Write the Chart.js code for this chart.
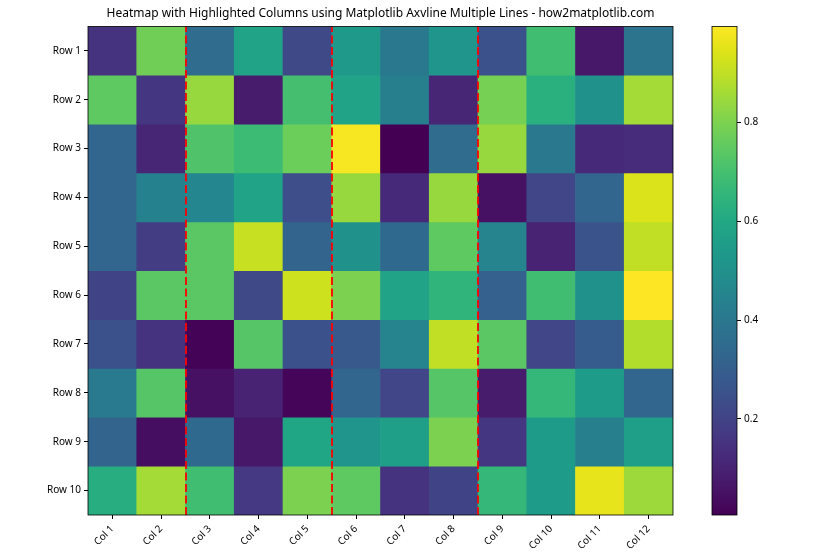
<!DOCTYPE html>
<html>
<head>
<meta charset="utf-8">
<script src="https://cdn.jsdelivr.net/npm/chart.js@4.4.1/dist/chart.umd.min.js"></script>
<style>
  body { margin: 0; background: #fff; }
  #wrap { position: relative; width: 840px; height: 560px; }
  canvas { position: absolute; top: 0; }
</style>
</head>
<body>
<div id="wrap">
  <canvas id="heat" width="840" height="560" style="left:0"></canvas>
  <canvas id="cbar" width="150" height="560" style="left:690px"></canvas>
</div>
<script>
// données
const colLabels = ['Col 1', 'Col 2', 'Col 3', 'Col 4', 'Col 5', 'Col 6', 'Col 7', 'Col 8', 'Col 9', 'Col 10', 'Col 11', 'Col 12'];
const rowLabels = ['Row 1', 'Row 2', 'Row 3', 'Row 4', 'Row 5', 'Row 6', 'Row 7', 'Row 8', 'Row 9', 'Row 10'];
const values = [
  [0.15, 0.78, 0.35, 0.58, 0.22, 0.54, 0.40, 0.52, 0.25, 0.69, 0.07, 0.38],
  [0.75, 0.16, 0.84, 0.08, 0.70, 0.58, 0.43, 0.11, 0.79, 0.63, 0.50, 0.86],
  [0.33, 0.11, 0.72, 0.68, 0.77, 0.985, 0.005, 0.35, 0.84, 0.40, 0.12, 0.13],
  [0.33, 0.44, 0.46, 0.58, 0.24, 0.84, 0.12, 0.84, 0.05, 0.21, 0.33, 0.94],
  [0.33, 0.18, 0.74, 0.91, 0.32, 0.50, 0.34, 0.75, 0.45, 0.10, 0.26, 0.90],
  [0.20, 0.74, 0.74, 0.22, 0.92, 0.80, 0.58, 0.65, 0.31, 0.69, 0.50, 0.995],
  [0.25, 0.15, 0.01, 0.73, 0.25, 0.28, 0.45, 0.90, 0.74, 0.21, 0.29, 0.88],
  [0.41, 0.73, 0.05, 0.10, 0.02, 0.33, 0.21, 0.73, 0.08, 0.66, 0.55, 0.33],
  [0.32, 0.04, 0.34, 0.07, 0.59, 0.52, 0.56, 0.80, 0.16, 0.55, 0.43, 0.56],
  [0.62, 0.86, 0.69, 0.17, 0.80, 0.75, 0.15, 0.20, 0.66, 0.55, 0.96, 0.85]
];
const highlightCols = [1.5, 4.5, 7.5]; // axvline entre les colonnes
const cbarTicks = [0.2, 0.4, 0.6, 0.8];

const TITLE = 'Heatmap with Highlighted Columns using Matplotlib Axvline Multiple Lines - how2matplotlib.com';
const FONT = 'Noto Sans';

// viridis, 21 échantillons
const VIRIDIS = ['#440154', '#471365', '#482475', '#463480', '#414487', '#3b528b', '#355f8d', '#2f6c8e', '#2a788e', '#25848e', '#21918c',
  '#1e9c89', '#22a884', '#2fb47c', '#44bf70', '#5ec962', '#7ad151', '#9bd93c', '#bddf26', '#dfe318', '#fde725'];
const hex = h => [1, 3, 5].map(i => parseInt(h.substr(i, 2), 16));
function viridis(t) {
  t = Math.max(0, Math.min(1, t)) * (VIRIDIS.length - 1);
  const i = Math.min(Math.floor(t), VIRIDIS.length - 2), f = t - i;
  const a = hex(VIRIDIS[i]), b = hex(VIRIDIS[i + 1]);
  return 'rgb(' + a.map((c, k) => Math.round(c + (b[k] - c) * f)).join(',') + ')';
}

const flat = values.flat();
const vmin = Math.min(...flat), vmax = Math.max(...flat);

// cadre noir autour de la zone du graphique
const frame = {
  id: 'frame',
  afterDatasetsDraw(chart) {
    const { ctx, chartArea: a } = chart;
    ctx.save();
    ctx.strokeStyle = '#000';
    ctx.lineWidth = 0.8;
    ctx.strokeRect(a.left, a.top, a.right - a.left, a.bottom - a.top);
    ctx.restore();
  }
};

const vlines = {
  id: 'vlines',
  afterDatasetsDraw(chart) {
    const { ctx, chartArea: a, scales } = chart;
    ctx.save();
    ctx.strokeStyle = '#ff0000';
    ctx.lineWidth = 1.8;
    ctx.setLineDash([8, 3.5]);
    highlightCols.forEach(c => {
      const x = Math.round(scales.x.getPixelForValue(c));
      ctx.beginPath();
      ctx.moveTo(x, a.bottom);
      ctx.lineTo(x, a.top);
      ctx.stroke();
    });
    ctx.restore();
  }
};

const tickFont = { family: FONT, size: 10 };

new Chart(document.getElementById('heat'), {
  type: 'bar',
  data: {
    labels: colLabels,
    datasets: values.map((row, r) => ({
      data: row.map(() => [r - 0.5, r + 0.5]),
      backgroundColor: row.map(v => viridis((v - vmin) / (vmax - vmin))),
      borderWidth: 0,
      barPercentage: 1,
      categoryPercentage: 1,
      grouped: false
    }))
  },
  options: {
    responsive: false,
    animation: false,
    layout: { padding: { left: 0, right: 167, top: 0, bottom: 0 } },
    plugins: {
      legend: { display: false },
      tooltip: { enabled: false },
      title: {
        display: true,
        text: TITLE,
        fullSize: false,
        color: '#000',
        font: { family: FONT, size: 12, weight: 'normal' },
        padding: { top: 6, bottom: 6 }
      }
    },
    scales: {
      x: {
        offset: true,
        grid: { offset: false, drawOnChartArea: false, tickLength: 4, color: '#000' },
        border: { display: false },
        ticks: { color: '#000', font: tickFont, maxRotation: 45, minRotation: 45, padding: 4 },
        afterFit: s => { s.height = 45; }
      },
      y: {
        type: 'linear',
        min: -0.5,
        max: 9.5,
        reverse: true,
        afterBuildTicks: s => { s.ticks = rowLabels.map((_, i) => ({ value: i })); },
        grid: { drawOnChartArea: false, tickLength: 4, color: '#000' },
        border: { display: false },
        ticks: { color: '#000', font: tickFont, padding: 3, callback: v => rowLabels[v] },
        afterFit: s => { s.width = 88; }
      }
    }
  },
  plugins: [vlines, frame]
});

// barre de couleur
function cbarGradient(chart) {
  const a = chart.chartArea;
  if (!a) return VIRIDIS[10];
  const g = chart.ctx.createLinearGradient(0, a.bottom, 0, a.top);
  VIRIDIS.forEach((c, i) => g.addColorStop(i / (VIRIDIS.length - 1), c));
  return g;
}

new Chart(document.getElementById('cbar'), {
  type: 'bar',
  data: {
    labels: [''],
    datasets: [{
      data: [[vmin, vmax]],
      backgroundColor: ctx => cbarGradient(ctx.chart),
      borderWidth: 0,
      barPercentage: 1,
      categoryPercentage: 1
    }]
  },
  options: {
    responsive: false,
    animation: false,
    layout: { padding: { left: 22, top: 26.4, bottom: 45 } },
    plugins: { legend: { display: false }, tooltip: { enabled: false } },
    scales: {
      x: { display: false },
      y: {
        position: 'right',
        min: vmin,
        max: vmax,
        afterBuildTicks: s => { s.ticks = cbarTicks.map(v => ({ value: v })); },
        grid: { drawOnChartArea: false, tickLength: 4, color: '#000' },
        border: { display: false },
        ticks: { color: '#000', font: tickFont, padding: 3, callback: v => v.toFixed(1) },
        afterFit: s => { s.width = 103; }
      }
    }
  },
  plugins: [frame]
});
</script>
</body>
</html>
